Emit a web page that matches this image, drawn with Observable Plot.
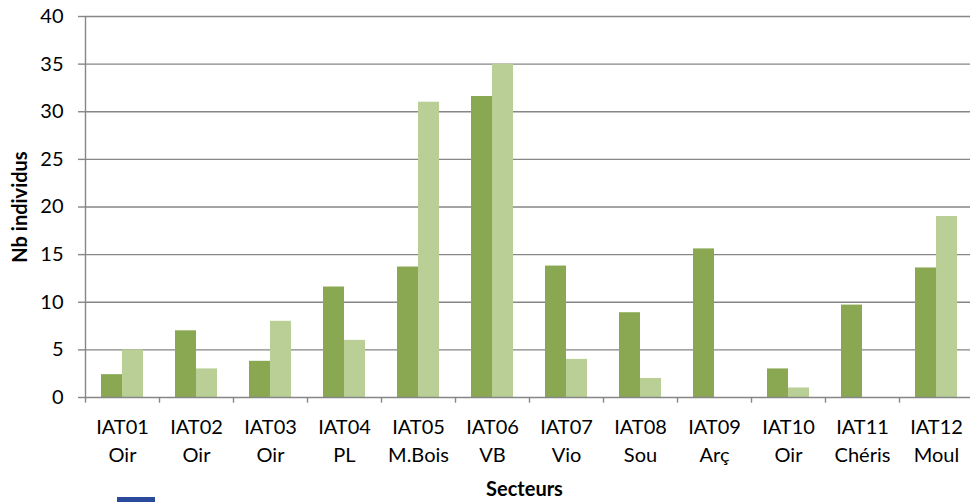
<!DOCTYPE html>
<html><head><meta charset="utf-8">
<script src="https://cdn.jsdelivr.net/npm/d3@7"></script>
<script src="https://cdn.jsdelivr.net/npm/@observablehq/plot@0.6"></script>
<style>html,body{margin:0;padding:0;background:#fff;overflow:hidden}svg{display:block}#c{position:relative;width:970px;height:502px;overflow:hidden}
#logo{position:absolute;left:117px;top:497px;width:38px;height:5px;background:#2a4a9c}</style>
</head><body><div id="c"><div id="logo"></div></div>
<script>
const secteurs=["IAT01","IAT02","IAT03","IAT04","IAT05","IAT06","IAT07","IAT08","IAT09","IAT10","IAT11","IAT12"];
const lieux=["Oir","Oir","Oir","PL","M.Bois","VB","Vio","Sou","Arç","Oir","Chéris","Moul"];
const serieA=[2.4,7,3.8,11.6,13.7,31.6,13.8,8.9,15.6,3,9.7,13.6];
const serieB=[5,3,8,6,31,35,4,2,0,1,0,19];
const yTicks=[0,5,10,15,20,25,30,35,40];
const rows=secteurs.flatMap((s,i)=>[{s,k:"A",v:serieA[i]},{s,k:"B",v:serieB[i]}]);
const label=new Map(secteurs.map((s,i)=>[s,s+"\n"+lieux[i]]));
const axisColor="#868686";
const plot=Plot.plot({
  width:970,height:502,marginLeft:85,marginRight:-3,marginTop:16,marginBottom:105,
  style:{fontFamily:"Lato,sans-serif",fontSize:"20px",color:"#000",background:"transparent",overflow:"visible"},
  x:{domain:["A","B"],paddingInner:0,paddingOuter:0.76,align:0.5,label:null,axis:null},
  fx:{domain:secteurs,padding:0,label:null,axis:null},
  y:{domain:[0,40],label:null,axis:null},
  marks:[
    Plot.gridY(yTicks.slice(1),{stroke:axisColor,strokeOpacity:1,strokeWidth:1.4}),
    Plot.barY(rows,{fx:"s",x:"k",y:"v",fill:d=>d.k==="A"?"#8aa851":"#b9cf96"}),
    Plot.ruleY([0],{stroke:axisColor,strokeWidth:1.4}),
    Plot.ruleX(secteurs,{fx:d=>d,x:()=>"A",dx:-26.5,y1:()=>0,y2:()=>-0.6,stroke:axisColor,strokeWidth:1.4}),
    Plot.ruleX(["IAT01"],{fx:d=>d,x:()=>"A",dx:-26.5,y1:()=>0,y2:()=>40,stroke:axisColor,strokeWidth:1.4}),
    Plot.axisY({ticks:yTicks,tickSize:7,tickPadding:15,stroke:axisColor,strokeWidth:1.4,fontSize:20,
      label:"Nb individus",labelAnchor:"center",labelArrow:"none",labelOffset:73,
      tickFormat:d=>d}),
    Plot.axisFx({anchor:"bottom",tickSize:0,tickPadding:17,lineHeight:1.4,fontSize:20,tickFormat:s=>label.get(s),
      label:"Secteurs",labelAnchor:"center",labelArrow:"none",labelOffset:98})
  ]
});
document.getElementById("c").prepend(plot);
d3.select(plot).selectAll("[aria-label='y-axis label'], [aria-label='fx-axis label']")
  .attr("font-weight","bold").attr("font-size",20);
d3.select(plot).selectAll("[aria-label='fx-axis label'] text").attr("dx",-5);
</script></body></html>
